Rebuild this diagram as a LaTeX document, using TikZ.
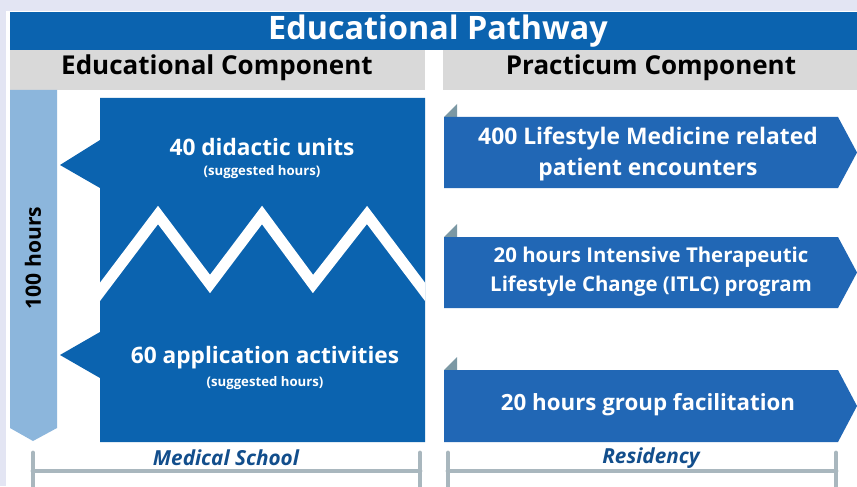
\documentclass[tikz,border=0pt]{standalone}
\usepackage{xcolor}
\usepackage{fontspec}
\setmainfont{Open Sans}
\usepackage{tikz}
\usetikzlibrary{positioning, calc}
\definecolor{lavender}{HTML}{E3E5F3}
\definecolor{bandblue}{HTML}{0B63AF}
\definecolor{arrowblue}{HTML}{2167B5}
\definecolor{barblue}{HTML}{8CB6DC}
\definecolor{headgray}{HTML}{D9D9D9}
\definecolor{foldgray}{HTML}{7B98A4}
\definecolor{bracketgray}{HTML}{A9B7BE}
\definecolor{phaseblue}{HTML}{124E8C}

\begin{document}
\begin{tikzpicture}[x=0.02cm, y=-0.02cm,
	every node/.style={align=center, inner sep=0pt},
	bandtext/.style={text=white, font=\fontsize{18.4}{21}\selectfont\bfseries},
	headtext/.style={text=black, font=\fontsize{14.8}{17}\selectfont\bfseries},
	boxtext/.style={text=white, font=\fontsize{12.9}{15}\selectfont\bfseries},
	subtext/.style={text=white, font=\fontsize{7.5}{9}\selectfont\bfseries},
	arrowtext/.style={text=white, font=\fontsize{13}{18}\selectfont\bfseries},
	phasetext/.style={text=phaseblue, font=\fontsize{11.8}{13}\selectfont\bfseries\itshape},
	bracket/.style={bracketgray, line width=2.8pt, line cap=round}]
	\useasboundingbox (0,0) rectangle (857,486);
	\fill[lavender] (0,0) rectangle (857,486);
	\fill[white] (6,11) rectangle (857,486);
	\pgfmathsetmacro{\arrx}{444}
	\pgfmathsetmacro{\arrlen}{394}
	\pgfmathsetmacro{\tiplen}{19}
	\pgfmathsetmacro{\foldw}{13}
	
	\fill[bandblue] (10,12) rectangle (857,50);
	\node[bandtext] (title) at (438,31) {Educational Pathway};
	\fill[headgray] (10,50) rectangle (425,90);
	\fill[headgray] (443,50) rectangle (857,90);
	\node[headtext] (educomp) at (217,68) {Educational Component};
	\node[headtext] (praccomp) at (651,68) {Practicum Component};
	
	\fill[barblue] (10,90) -- ++(47,0) -- ++(0,338) -- ++(-24,13) -- ++(-23,-13) -- cycle;
	\node[text=black, font=\fontsize{12}{14}\selectfont\bfseries, rotate=90] (hours) at (33,258) {100 hours};
	
	\fill[bandblue] (100,98) -- (425,98) -- (425,442) -- (100,442) -- (100,378) -- (60,355) -- (100,332) -- (100,188) -- (60,165) -- (100,140) -- cycle;
	\begin{scope}
		\clip (100,98) rectangle (425,442);
		\draw[white, line width=6.3pt, miter limit=4] (84,313) -- (158,215) -- (210,284) -- (262,215) -- (313,284) -- (367,215) -- (441,313);
	\end{scope}
	\node[boxtext] (didactic) at (262,147) {40 didactic units};
	\node[subtext] (didacticsub) at (262,172) {(suggested hours)};
	\node[boxtext] (application) at (265,358) {60 application activities};
	\node[subtext] (applicationsub) at (265,383) {(suggested hours)};
	
	\fill[foldgray] (\arrx,117) -- ++(\foldw,-\foldw) -- ++(0,\foldw) -- cycle;
	\fill[arrowblue] (\arrx,117) -- ++(\arrlen,0) -- ++(\tiplen,35.5) -- ++(-\tiplen,35.5) -- ++(-\arrlen,0) -- cycle;
	\node[arrowtext] (encounters) at (648,154) {400 Lifestyle Medicine related\\patient encounters};
	
	\fill[foldgray] (\arrx,237) -- ++(\foldw,-\foldw) -- ++(0,\foldw) -- cycle;
	\fill[arrowblue] (\arrx,237) -- ++(\arrlen,0) -- ++(\tiplen,35.5) -- ++(-\tiplen,35.5) -- ++(-\arrlen,0) -- cycle;
	\node[arrowtext, font=\fontsize{11.6}{16.4}\selectfont\bfseries] (itlc) at (651,272) {20 hours Intensive Therapeutic\\Lifestyle Change (ITLC) program};
	
	\fill[foldgray] (\arrx,370) -- ++(\foldw,-\foldw) -- ++(0,\foldw) -- cycle;
	\fill[arrowblue] (\arrx,370) -- ++(\arrlen,0) -- ++(\tiplen,36) -- ++(-\tiplen,36) -- ++(-\arrlen,0) -- cycle;
	\node[arrowtext, font=\fontsize{12.7}{15}\selectfont\bfseries] (facilitation) at (648,405) {20 hours group facilitation};
	
	\draw[bracket] (33,453) -- (33,490);
	\draw[bracket] (420,453) -- (420,490);
	\draw[bracket] (33,471) -- (420,471);
	\node[phasetext] (medschool) at (226,458) {Medical School};
	\draw[bracket] (448,453) -- (448,490);
	\draw[bracket] (836,453) -- (836,490);
	\draw[bracket] (448,471) -- (836,471);
	\node[phasetext] (residency) at (651,458) {Residency};
\end{tikzpicture}
\end{document}
